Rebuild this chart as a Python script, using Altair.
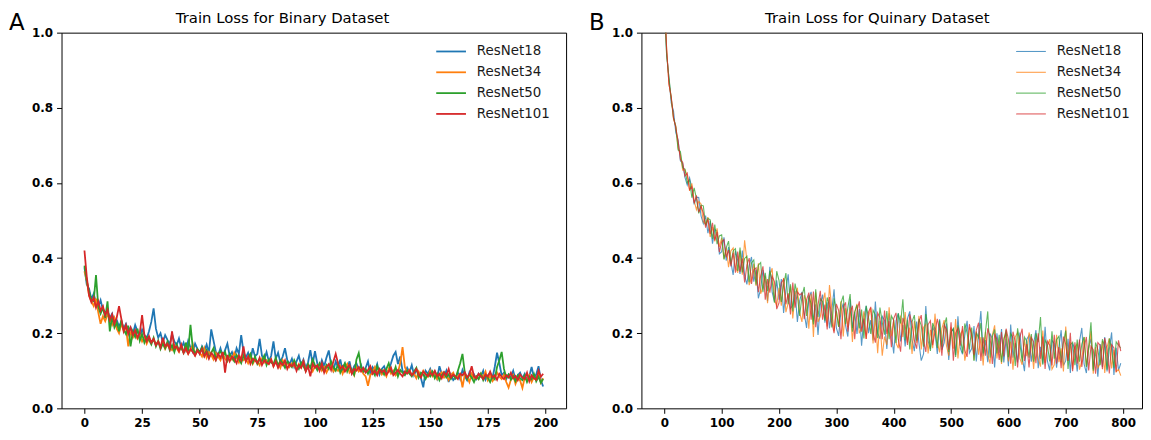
import altair as alt
import pandas as pd

MODELS = ["ResNet18", "ResNet34", "ResNet50", "ResNet101"]
COLORS = ["#1f77b4", "#ff7f0e", "#2ca02c", "#d62728"]
FONT = "DejaVu Sans"

# ---- Binary dataset: train loss x1000, epochs 0..199 ----
BIN_R18 = [
    375, 330, 318, 290, 305, 282, 270, 288, 262, 255,
    260, 240, 252, 228, 235, 218, 230, 212, 225, 206,
    215, 198, 222, 205, 190, 210, 196, 185, 205, 230,
    266, 212, 188, 200, 176, 195, 182, 170, 198, 178,
    168, 186, 160, 175, 155, 180, 162, 150, 172, 158,
    145, 165, 152, 170, 148, 210, 180, 150, 142, 160,
    138, 155, 172, 140, 150, 132, 160, 145, 195, 150,
    135, 148, 128, 160, 138, 145, 185, 140, 130, 150,
    125, 140, 178, 132, 148, 122, 138, 160, 128, 118,
    132, 110, 125, 140, 115, 130, 108, 122, 155, 118,
    152, 120, 105, 128, 112, 135, 154, 115, 100, 125,
    110, 130, 98, 118, 105, 125, 95, 112, 120, 102,
    115, 96, 108, 125, 92, 110, 100, 118, 90, 105,
    112, 95, 102, 120, 140, 150, 118, 138, 100, 92,
    108, 96, 115, 88, 102, 94, 80, 56, 100, 92,
    105, 88, 98, 80, 112, 92, 84, 100, 70, 90,
    75, 82, 95, 78, 102, 86, 75, 96, 82, 90,
    78, 92, 84, 100, 76, 88, 94, 80, 110, 148,
    120, 88, 95, 78, 90, 82, 100, 76, 88, 95,
    80, 92, 74, 86, 110, 82, 90, 112, 75, 58,
]
BIN_R34 = [
    365, 340, 300, 285, 272, 292, 255, 225, 245, 232,
    250, 238, 222, 240, 212, 200, 225, 208, 215, 165,
    205, 188, 200, 185, 195, 178, 190, 172, 186, 175,
    182, 170, 178, 165, 175, 158, 170, 162, 155, 168,
    160, 150, 166, 148, 158, 145, 155, 170, 142, 152,
    148, 138, 160, 135, 150, 142, 130, 148, 138, 128,
    145, 132, 125, 140, 130, 148, 135, 122, 138, 128,
    132, 120, 135, 118, 130, 125, 115, 132, 122, 128,
    118, 130, 112, 125, 120, 108, 128, 115, 122, 110,
    120, 112, 105, 118, 108, 125, 100, 115, 110, 98,
    112, 105, 118, 100, 110, 95, 108, 120, 98, 105,
    100, 112, 92, 108, 118, 95, 102, 88, 110, 98,
    105, 92, 85, 60, 88, 95, 110, 95, 102, 90,
    98, 85, 105, 92, 100, 88, 96, 120, 163, 110,
    95, 102, 88, 92, 80, 98, 85, 100, 90, 84,
    100, 85, 92, 78, 88, 96, 82, 90, 75, 88,
    95, 80, 86, 92, 56, 90, 84, 70, 92, 80,
    86, 78, 92, 82, 98, 75, 88, 72, 80, 95,
    84, 78, 90, 70, 55, 76, 88, 65, 80, 74,
    54, 82, 76, 88, 70, 84, 78, 92, 68, 80,
]
BIN_R50 = [
    380, 340, 310, 290, 285, 355, 270, 252, 268, 240,
    285, 205, 245, 215, 228, 205, 235, 210, 198, 220,
    165, 205, 190, 212, 180, 198, 175, 190, 182, 170,
    188, 165, 180, 158, 172, 160, 178, 155, 168, 150,
    170, 155, 162, 148, 175, 152, 222, 160, 145, 158,
    150, 162, 140, 155, 135, 148, 160, 130, 145, 152,
    138, 150, 128, 145, 135, 125, 142, 132, 120, 140,
    128, 135, 145, 122, 138, 118, 130, 125, 140, 115,
    130, 122, 118, 135, 112, 128, 120, 108, 125, 118,
    110, 128, 115, 105, 122, 112, 100, 118, 108, 130,
    115, 102, 120, 108, 98, 115, 105, 125, 110, 100,
    118, 95, 108, 120, 98, 112, 102, 90, 130, 147,
    110, 98, 105, 92, 108, 100, 88, 112, 95, 102,
    90, 105, 120, 98, 92, 110, 85, 102, 95, 88,
    100, 92, 85, 98, 108, 82, 95, 90, 78, 92,
    85, 98, 80, 92, 75, 88, 96, 82, 90, 78,
    88, 80, 100, 120, 145, 95, 78, 90, 82, 70,
    85, 78, 92, 75, 88, 82, 70, 86, 78, 110,
    128, 150, 105, 82, 90, 76, 85, 72, 88, 80,
    75, 88, 70, 85, 78, 92, 72, 84, 68, 78,
]
BIN_R101 = [
    420, 350, 300, 282, 295, 268, 285, 260, 272, 248,
    262, 235, 250, 225, 242, 272, 238, 205, 222, 198,
    215, 195, 208, 188, 200, 248, 195, 178, 192, 175,
    185, 168, 178, 162, 188, 165, 172, 158, 205, 160,
    165, 152, 170, 148, 160, 145, 158, 150, 140, 155,
    145, 158, 138, 150, 132, 148, 140, 128, 145, 135,
    150, 95, 142, 125, 138, 132, 120, 140, 128, 165,
    125, 138, 118, 132, 128, 120, 135, 115, 128, 122,
    118, 130, 112, 125, 108, 122, 115, 128, 105, 118,
    112, 120, 100, 115, 108, 125, 98, 112, 85, 118,
    108, 115, 100, 120, 95, 110, 118, 102, 125, 145,
    120, 105, 112, 98, 108, 115, 92, 105, 100, 110,
    98, 108, 95, 102, 112, 92, 100, 88, 105, 96,
    102, 90, 98, 108, 88, 95, 102, 92, 85, 98,
    92, 100, 88, 95, 105, 90, 82, 98, 92, 86,
    95, 88, 100, 85, 92, 80, 96, 88, 105, 82,
    90, 85, 78, 92, 88, 96, 82, 90, 112, 85,
    80, 92, 86, 78, 90, 84, 98, 82, 88, 76,
    92, 84, 78, 88, 82, 95, 80, 86, 75, 90,
    82, 78, 95, 72, 88, 80, 76, 100, 84, 92,
]

# ---- Quinary dataset: train loss x1000, every 4th epoch 0..796 ----
QUI_STEP = 4
QUI_R18 = [
    1086, 946, 880, 813, 792, 734, 714, 659, 652, 615,
    594, 614, 586, 543, 562, 561, 512, 492, 513, 466,
    499, 438, 476, 472, 411, 417, 455, 393, 429, 390,
    355, 419, 393, 358, 420, 354, 330, 379, 403, 337,
    369, 293, 318, 368, 342, 285, 377, 309, 284, 341,
    289, 344, 254, 315, 357, 266, 274, 313, 230, 286,
    310, 253, 214, 292, 310, 231, 277, 195, 276, 303,
    228, 282, 213, 260, 317, 214, 193, 259, 279, 221,
    191, 290, 214, 256, 198, 264, 167, 242, 273, 200,
    235, 181, 284, 200, 185, 245, 234, 158, 253, 198,
    146, 233, 253, 178, 222, 165, 239, 258, 182, 152,
    231, 174, 127, 145, 272, 178, 158, 216, 204, 145,
    237, 156, 174, 226, 129, 203, 212, 142, 245, 161,
    144, 194, 233, 147, 159, 219, 125, 196, 259, 138,
    182, 123, 199, 185, 109, 200, 148, 211, 122, 185,
    112, 223, 135, 174, 122, 202, 137, 99, 184, 194,
    124, 172, 208, 107, 164, 119, 217, 126, 101, 181,
    172, 108, 163, 208, 114, 127, 185, 94, 173, 157,
    98, 178, 214, 118, 94, 160, 186, 105, 156, 84,
    171, 110, 190, 98, 157, 202, 89, 161, 101, 120,
]
QUI_R34 = [
    1080, 960, 864, 827, 770, 752, 693, 676, 634, 635,
    620, 579, 599, 552, 529, 551, 544, 496, 490, 509,
    456, 483, 444, 479, 430, 454, 398, 428, 376, 419,
    427, 377, 361, 420, 356, 447, 394, 328, 347, 385,
    326, 386, 305, 323, 353, 280, 353, 373, 289, 274,
    321, 273, 347, 256, 280, 325, 239, 303, 321, 254,
    230, 301, 283, 212, 305, 190, 309, 230, 244, 279,
    308, 218, 328, 266, 205, 259, 217, 285, 191, 266,
    217, 269, 177, 256, 278, 200, 215, 258, 185, 243,
    267, 173, 244, 147, 233, 140, 191, 169, 269, 192,
    234, 174, 160, 247, 190, 256, 175, 215, 145, 232,
    175, 246, 157, 215, 224, 146, 209, 160, 252, 177,
    149, 212, 235, 167, 140, 216, 159, 238, 133, 196,
    208, 127, 161, 216, 199, 129, 205, 143, 190, 114,
    204, 144, 119, 195, 221, 133, 180, 118, 186, 201,
    125, 178, 103, 190, 202, 133, 116, 184, 139, 202,
    177, 105, 184, 133, 111, 207, 121, 166, 184, 104,
    116, 196, 123, 160, 98, 218, 126, 177, 104, 163,
    172, 103, 126, 190, 113, 157, 205, 92, 164, 108,
    120, 179, 94, 162, 186, 106, 156, 97, 104, 87,
]
QUI_R50 = [
    1080, 938, 882, 825, 773, 750, 688, 684, 640, 637,
    600, 608, 561, 587, 558, 519, 541, 539, 487, 506,
    502, 451, 489, 437, 459, 462, 396, 428, 445, 384,
    419, 425, 366, 428, 362, 399, 405, 336, 387, 395,
    329, 381, 388, 309, 361, 312, 366, 341, 281, 365,
    340, 283, 328, 360, 277, 330, 258, 332, 300, 246,
    299, 323, 246, 300, 278, 223, 317, 243, 292, 284,
    233, 295, 272, 215, 293, 259, 217, 280, 300, 224,
    268, 304, 204, 256, 275, 213, 263, 186, 273, 243,
    198, 261, 249, 187, 268, 229, 196, 259, 184, 246,
    234, 174, 253, 226, 290, 181, 236, 157, 230, 248,
    180, 238, 221, 164, 251, 210, 153, 227, 210, 161,
    234, 164, 219, 242, 150, 203, 212, 137, 221, 196,
    147, 226, 201, 157, 215, 126, 202, 188, 227, 146,
    204, 258, 135, 190, 210, 146, 196, 123, 181, 209,
    136, 199, 188, 113, 213, 173, 124, 190, 179, 135,
    198, 124, 200, 176, 243, 116, 182, 169, 125, 205,
    132, 183, 192, 123, 175, 207, 105, 169, 176, 115,
    183, 124, 171, 190, 110, 165, 229, 100, 175, 156,
    115, 184, 163, 103, 186, 157, 108, 177, 168, 160,
]
QUI_R101 = [
    1100, 956, 863, 830, 774, 747, 712, 662, 655, 618,
    626, 582, 590, 546, 567, 522, 538, 520, 481, 503,
    464, 494, 447, 469, 416, 443, 449, 402, 421, 378,
    414, 361, 417, 364, 399, 335, 381, 400, 331, 369,
    374, 309, 353, 378, 289, 344, 308, 352, 337, 264,
    281, 334, 344, 277, 306, 250, 335, 268, 310, 302,
    307, 237, 289, 308, 236, 311, 216, 275, 313, 236,
    276, 210, 296, 231, 200, 278, 260, 184, 268, 282,
    204, 253, 273, 184, 259, 285, 204, 239, 185, 256,
    270, 202, 175, 254, 241, 184, 260, 198, 232, 163,
    239, 254, 184, 151, 241, 221, 169, 250, 225, 181,
    159, 230, 248, 180, 150, 223, 233, 168, 204, 238,
    208, 140, 222, 210, 156, 229, 127, 201, 213, 167,
    219, 154, 137, 224, 191, 142, 208, 228, 126, 189,
    140, 213, 191, 118, 197, 184, 129, 203, 138, 212,
    184, 119, 204, 177, 109, 189, 212, 126, 171, 109,
    188, 177, 120, 200, 132, 191, 105, 179, 168, 114,
    196, 119, 163, 107, 191, 170, 126, 201, 99, 176,
    119, 183, 110, 161, 190, 101, 165, 156, 92, 175,
    168, 104, 187, 157, 93, 170, 161, 97, 181, 152,
]

X_TICKS_BIN = [0, 25, 50, 75, 100, 125, 150, 175, 200]
X_TICKS_QUI = [0, 100, 200, 300, 400, 500, 600, 700, 800]
Y_TICKS = [0.0, 0.2, 0.4, 0.6, 0.8, 1.0]

PLOT_H = 379


def series_df(vals, step):
    return pd.DataFrame({
        "epoch": [i * step for i in range(len(vals))],
        "loss": [v / 1000.0 for v in vals],
    })


def panel(series, step, x_domain, x_ticks, title, letter, width, lw, op, title_x):
    line_layers = []
    for vals, color in zip(series, COLORS):
        line_layers.append(
            alt.Chart(series_df(vals, step))
            .mark_line(clip=True, color=color, strokeWidth=lw, opacity=op)
            .encode(
                x=alt.X("epoch:Q",
                        scale=alt.Scale(domain=x_domain, nice=False, zero=False),
                        axis=alt.Axis(values=x_ticks, format="d", title=None,
                                      labelFlush=False, labelOverlap=False)),
                y=alt.Y("loss:Q",
                        scale=alt.Scale(domain=[0, 1], nice=False),
                        axis=alt.Axis(values=Y_TICKS, format=".1f", title=None,
                                      labelFlush=False, labelOverlap=False)),
            )
        )
    lines = alt.layer(*line_layers)

    leg_df = pd.DataFrame({"model": MODELS, "color": COLORS,
                           "row": list(range(len(MODELS)))})
    yleg = alt.Y("row:Q", scale=alt.Scale(domain=[0, 3], range=[19, 82], nice=False,
                                          zero=False), axis=None)
    leg_rule = alt.Chart(leg_df).mark_rule(strokeWidth=lw, opacity=op).encode(
        x=alt.value(378), x2=alt.value(408), y=yleg,
        color=alt.Color("color:N", scale=None))
    leg_text = alt.Chart(leg_df).mark_text(
        align="left", baseline="middle", font=FONT, fontSize=13.5, color="#1a1a1a"
    ).encode(x=alt.value(419), y=yleg, text="model:N")
    legend = alt.layer(leg_rule, leg_text)

    ttl = alt.Chart(pd.DataFrame({"t": [title]})).mark_text(
        align="center", baseline="alphabetic", font=FONT, fontSize=15, color="black"
    ).encode(x=alt.value(title_x), y=alt.value(-10), text="t:N")
    let = alt.Chart(pd.DataFrame({"t": [letter]})).mark_text(
        align="left", baseline="alphabetic", font=FONT, fontSize=23, color="black"
    ).encode(x=alt.value(-53), y=alt.value(-2.5), text="t:N")

    return (alt.layer(lines, legend, ttl, let)
            .resolve_scale(y="independent")
            .properties(width=width, height=PLOT_H))


panel_a = panel([BIN_R18, BIN_R34, BIN_R50, BIN_R101], 1, [-9.95, 208.95], X_TICKS_BIN,
                "Train Loss for Binary Dataset", "A", 509, 1.8, 1.0, 223)
panel_b = panel([QUI_R18, QUI_R34, QUI_R50, QUI_R101], QUI_STEP, [-39.95, 833], X_TICKS_QUI,
                "Train Loss for Quinary Dataset", "B", 505, 1.1, 0.75, 238)

chart = (
    alt.hconcat(panel_a, panel_b, spacing=21)
    .properties(padding={"left": 0, "top": 0, "right": 0, "bottom": 0})
    .configure_view(stroke="black", strokeWidth=1)
    .configure_axis(domain=False, grid=False, labelFont=FONT, labelFontSize=12,
                    labelFontWeight="bold", labelColor="black", tickColor="black",
                    tickSize=5, tickWidth=1, labelPadding=4)
)

chart.save("out.html", embed_options={"renderer": "svg", "actions": False})
